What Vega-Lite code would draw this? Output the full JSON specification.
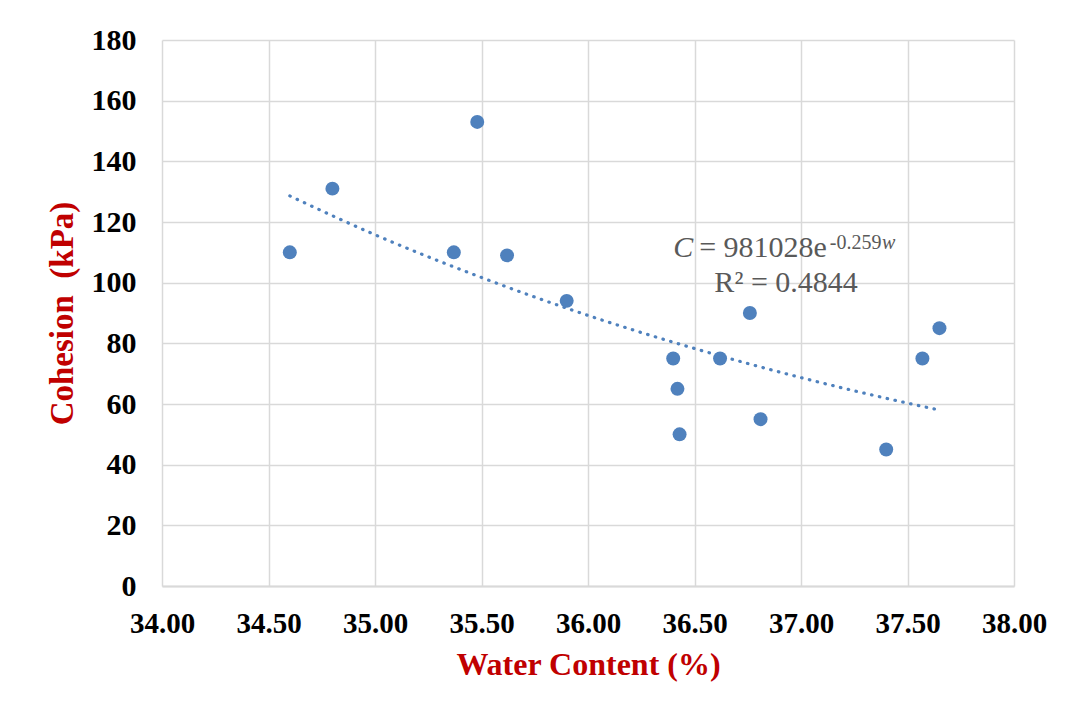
{
  "$schema": "https://vega.github.io/schema/vega-lite/v6.json",
  "width": 852,
  "height": 546,
  "autosize": {"type": "none"},
  "padding": {"left": 162, "top": 40, "right": 56, "bottom": 123},
  "background": "white",
  "config": {"view": {"stroke": null}},
  "datasets": {
    "pts": [
      {"w": 34.60, "c": 110},
      {"w": 34.80, "c": 131},
      {"w": 35.37, "c": 110},
      {"w": 35.48, "c": 153},
      {"w": 35.62, "c": 109},
      {"w": 35.90, "c": 94},
      {"w": 36.40, "c": 75},
      {"w": 36.42, "c": 65},
      {"w": 36.43, "c": 50},
      {"w": 36.62, "c": 75},
      {"w": 36.76, "c": 90},
      {"w": 36.81, "c": 55},
      {"w": 37.40, "c": 45},
      {"w": 37.57, "c": 75},
      {"w": 37.65, "c": 85}
    ],
    "trend": [
      {"w": 34.60, "c": 128.6},
      {"w": 35.00, "c": 115.8},
      {"w": 35.50, "c": 101.7},
      {"w": 36.00, "c": 89.2},
      {"w": 36.50, "c": 78.3},
      {"w": 37.00, "c": 68.7},
      {"w": 37.50, "c": 60.3},
      {"w": 37.65, "c": 58.0}
    ]
  },
  "encoding": {
    "x": {
      "field": "w",
      "type": "quantitative",
      "scale": {"domain": [34, 38], "nice": false, "zero": false},
      "axis": {
        "title": "Water Content (%)",
        "values": [34, 34.5, 35, 35.5, 36, 36.5, 37, 37.5, 38],
        "format": ".2f",
        "grid": true,
        "gridColor": "#d9d9d9",
        "gridWidth": 1.5,
        "domainColor": "#d9d9d9",
        "domainWidth": 2,
        "ticks": false,
        "tickSize": 0,
        "labelFont": "Liberation Serif",
        "labelFontWeight": "bold",
        "labelFontSize": 29,
        "labelColor": "black",
        "labelPadding": 23,
        "labelOverlap": false,
        "labelFlush": false,
        "titleFont": "Liberation Serif",
        "titleFontWeight": "bold",
        "titleFontSize": 32,
        "titleColor": "#c00000",
        "titlePadding": 11
      }
    },
    "y": {
      "field": "c",
      "type": "quantitative",
      "scale": {"domain": [0, 180], "nice": false},
      "axis": {
        "title": "Cohesion\u00a0\u00a0(kPa)",
        "values": [0, 20, 40, 60, 80, 100, 120, 140, 160, 180],
        "grid": true,
        "gridColor": "#d9d9d9",
        "gridWidth": 1.5,
        "domain": false,
        "ticks": false,
        "tickSize": 0,
        "labelFont": "Liberation Serif",
        "labelFontWeight": "bold",
        "labelFontSize": 30,
        "labelColor": "black",
        "labelPadding": 26,
        "labelFlush": false,
        "titleFont": "Liberation Serif",
        "titleFontWeight": "bold",
        "titleFontSize": 33,
        "titleColor": "#c00000",
        "titlePadding": 12
      }
    }
  },
  "layer": [
    {
      "data": {"name": "trend"},
      "mark": {"type": "line", "interpolate": "monotone", "color": "#4f81bd", "strokeWidth": 3.2, "strokeDash": [0.5, 7.5], "strokeCap": "round"}
    },
    {
      "data": {"name": "pts"},
      "mark": {"type": "point", "filled": true, "size": 195, "color": "#4f81bd", "opacity": 1}
    },
    {
      "data": {"values": [{"w": 36.40, "c": 108.4, "t": "C"}]},
      "mark": {"type": "text", "align": "left", "baseline": "alphabetic", "font": "Liberation Serif", "fontStyle": "italic", "fontSize": 30, "color": "#595959"},
      "encoding": {"text": {"field": "t"}}
    },
    {
      "data": {"values": [{"w": 36.522, "c": 108.4, "t": "= 981028e"}]},
      "mark": {"type": "text", "align": "left", "baseline": "alphabetic", "font": "Liberation Serif", "fontSize": 30, "color": "#595959"},
      "encoding": {"text": {"field": "t"}}
    },
    {
      "data": {"values": [{"w": 37.135, "c": 111.1, "t": "-0.259"}]},
      "mark": {"type": "text", "align": "left", "baseline": "alphabetic", "font": "Liberation Serif", "fontSize": 20, "color": "#595959"},
      "encoding": {"text": {"field": "t"}}
    },
    {
      "data": {"values": [{"w": 37.38, "c": 111.1, "t": "w"}]},
      "mark": {"type": "text", "align": "left", "baseline": "alphabetic", "font": "Liberation Serif", "fontStyle": "italic", "fontSize": 20, "color": "#595959"},
      "encoding": {"text": {"field": "t"}}
    },
    {
      "data": {"values": [{"w": 36.93, "c": 97.0, "t": "R² = 0.4844"}]},
      "mark": {"type": "text", "align": "center", "baseline": "alphabetic", "font": "Liberation Serif", "fontSize": 30, "color": "#595959"},
      "encoding": {"text": {"field": "t"}}
    }
  ]
}
